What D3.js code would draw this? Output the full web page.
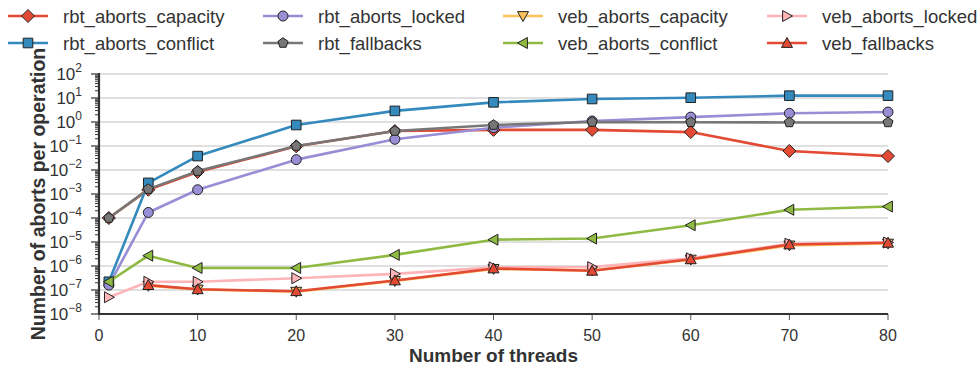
<!DOCTYPE html>
<html><head><meta charset="utf-8">
<script src="https://cdn.jsdelivr.net/npm/d3@7"></script>
<style>
body{margin:0;background:#fff;}
svg{display:block;font-family:"Liberation Sans",Arial,sans-serif;}
</style></head>
<body>
<svg id="chart" width="979" height="368"></svg>
<script>
const threads = [1, 5, 10, 20, 30, 40, 50, 60, 70, 80];
const rbt_aborts_capacity = [1e-4, 1.5e-3, 8.3e-3, 0.097, 0.42, 0.47, 0.47, 0.38, 0.062, 0.038];
const rbt_aborts_conflict = [2.2e-7, 2.9e-3, 0.038, 0.75, 2.9, 6.6, 9.1, 10.3, 12.5, 12.5];
const rbt_aborts_locked = [1.6e-7, 1.7e-4, 1.5e-3, 0.027, 0.19, 0.58, 1.1, 1.6, 2.3, 2.6];
const rbt_fallbacks = [1e-4, 1.6e-3, 9e-3, 0.1, 0.42, 0.75, 1.0, 0.98, 0.96, 0.96];
const veb_aborts_capacity = [null, 1.5e-7, 1.05e-7, 8.5e-8, 2.4e-7, 7.6e-7, 6.5e-7, 1.85e-6, 7.2e-6, 8.6e-6];
const veb_aborts_conflict = [2.2e-7, 2.7e-6, 8.3e-7, 8.3e-7, 2.9e-6, 1.25e-5, 1.4e-5, 5e-5, 2.2e-4, 3.0e-4];
const veb_aborts_locked = [5e-8, 2.2e-7, 2.2e-7, 3.1e-7, 4.7e-7, 8.8e-7, 9e-7, 2.1e-6, 8.5e-6, 9.5e-6];
const veb_fallbacks = [null, 1.6e-7, 1.07e-7, 8.9e-8, 2.5e-7, 7.9e-7, 6.3e-7, 1.9e-6, 7.9e-6, 9.3e-6];
const xTicks = [0, 10, 20, 30, 40, 50, 60, 70, 80];
const yTickExps = [2, 1, 0, -1, -2, -3, -4, -5, -6, -7, -8];

const series = [
  {name:"rbt_aborts_capacity", values:rbt_aborts_capacity, color:"#E24A33", marker:"diamond"},
  {name:"rbt_aborts_conflict", values:rbt_aborts_conflict, color:"#348ABD", marker:"square"},
  {name:"rbt_aborts_locked", values:rbt_aborts_locked, color:"#988ED5", marker:"circle"},
  {name:"rbt_fallbacks", values:rbt_fallbacks, color:"#777777", marker:"pentagon"},
  {name:"veb_aborts_capacity", values:veb_aborts_capacity, color:"#FBC15E", marker:"tdown"},
  {name:"veb_aborts_conflict", values:veb_aborts_conflict, color:"#8EBA42", marker:"tleft"},
  {name:"veb_aborts_locked", values:veb_aborts_locked, color:"#FFB5B8", marker:"tright"},
  {name:"veb_fallbacks", values:veb_fallbacks, color:"#E24A33", marker:"tup"}
];

const svg = d3.select("#chart");
const x = d3.scaleLinear().domain([0, 80]).range([99, 888]);
const y = d3.scaleLog().domain([1e-8, 1e2]).range([314, 74]);

function markerPath(type){
  const p = d3.path();
  if(type==="diamond"){ const r=6.5; p.moveTo(0,-r);p.lineTo(r,0);p.lineTo(0,r);p.lineTo(-r,0);p.closePath(); }
  else if(type==="square"){ const r=4.8; p.rect(-r,-r,2*r,2*r); }
  else if(type==="circle"){ p.arc(0,0,5,0,2*Math.PI); p.closePath(); }
  else if(type==="pentagon"){ const r=5.3; for(let i=0;i<5;i++){const a=-Math.PI/2+i*2*Math.PI/5; const px=r*Math.cos(a), py=r*Math.sin(a); if(i===0)p.moveTo(px,py); else p.lineTo(px,py);} p.closePath(); }
  else {
    const r=5.5;
    let pts=[[0,-r],[r,r*0.8],[-r,r*0.8]];
    let rot = {tup:0, tdown:180, tleft:-90, tright:90}[type];
    const a=rot*Math.PI/180;
    pts = pts.map(([px,py])=>[px*Math.cos(a)-py*Math.sin(a), px*Math.sin(a)+py*Math.cos(a)]);
    p.moveTo(pts[0][0],pts[0][1]); p.lineTo(pts[1][0],pts[1][1]); p.lineTo(pts[2][0],pts[2][1]); p.closePath();
  }
  return p.toString();
}

// gridlines
svg.append("g").selectAll("line").data(yTickExps).join("line")
  .attr("x1", x(0)).attr("x2", x(80))
  .attr("y1", e=>y(Math.pow(10,e))).attr("y2", e=>y(Math.pow(10,e)))
  .attr("stroke", "#d6d6d6").attr("stroke-width", 1.6);

// y axis
const yAxis = svg.append("g").attr("transform", `translate(${x(0)},0)`);
const minor = [];
for(let e=-8;e<2;e++){ for(let m=2;m<=9;m++) minor.push(m*Math.pow(10,e)); }
yAxis.selectAll("line.minor").data(minor).join("line").attr("class","minor")
  .attr("x1",-4).attr("x2",0).attr("y1",d=>y(d)).attr("y2",d=>y(d))
  .attr("stroke","#333").attr("stroke-width",1);
yAxis.selectAll("line.major").data(yTickExps).join("line").attr("class","major")
  .attr("x1",-8).attr("x2",0).attr("y1",e=>y(Math.pow(10,e))).attr("y2",e=>y(Math.pow(10,e)))
  .attr("stroke","#333").attr("stroke-width",1.2);
yAxis.append("line").attr("x1",0).attr("x2",0).attr("y1",y(1e2)-1).attr("y2",y(1e-8))
  .attr("stroke","#333").attr("stroke-width",2.2);
const yl = yAxis.selectAll("text").data(yTickExps).join("text")
  .attr("x",-17).attr("y",e=>y(Math.pow(10,e))+6)
  .attr("text-anchor","end").attr("font-size",17).attr("fill","#333");
yl.append("tspan").text("10");
yl.append("tspan").attr("dy",-8).attr("font-size",12).text(e=>e<0?"\u2212"+(-e):String(e));

// x axis
const xAxis = svg.append("g").attr("transform", `translate(0,${y(1e-8)})`);
xAxis.selectAll("line.tick").data(xTicks).join("line").attr("class","tick")
  .attr("x1",d=>x(d)).attr("x2",d=>x(d)).attr("y1",0).attr("y2",6)
  .attr("stroke","#555").attr("stroke-width",1);
xAxis.append("line").attr("x1",x(0)-1).attr("x2",x(80)).attr("y1",0).attr("y2",0)
  .attr("stroke","#333").attr("stroke-width",2.2);
xAxis.selectAll("text").data(xTicks).join("text")
  .attr("x",d=>x(d)).attr("y",27).attr("text-anchor","middle")
  .attr("font-size",16).attr("fill","#333")
  .text(d=>d);

// axis titles
svg.append("text").attr("x",(x(0)+x(80))/2).attr("y",362).attr("text-anchor","middle")
  .attr("font-size",19).attr("font-weight","bold").attr("fill","#333")
  .text("Number of threads");
svg.append("text").attr("transform",`translate(45,194) rotate(-90)`)
  .attr("text-anchor","middle").attr("font-size",19.5).attr("font-weight","bold").attr("fill","#333")
  .text("Number of aborts per operation");

// lines & markers
const line = d3.line().defined(d=>d[1]!=null).x(d=>x(d[0])).y(d=>y(d[1]));
const plot = svg.append("g");
series.forEach(s=>{
  const pts = threads.map((t,i)=>[t, s.values[i]]);
  const g = plot.append("g");
  g.append("path").datum(pts).attr("d",line).attr("fill","none")
    .attr("stroke",s.color).attr("stroke-width",2.6).attr("stroke-linejoin","round");
  g.selectAll("path.m").data(pts.filter(d=>d[1]!=null)).join("path").attr("class","m")
    .attr("transform",d=>`translate(${x(d[0])},${y(d[1])})`)
    .attr("d",markerPath(s.marker)).attr("fill",s.color)
    .attr("stroke","#222").attr("stroke-width",1);
});

// legend
const legCols = [8, 263, 503, 767];
const legRows = [16, 43];
const leg = svg.append("g");
series.forEach((s,i)=>{
  const cx = legCols[Math.floor(i/2)], cy = legRows[i%2];
  const g = leg.append("g").attr("transform",`translate(${cx},${cy})`);
  g.append("line").attr("x1",0).attr("x2",40).attr("y1",0).attr("y2",0)
    .attr("stroke",s.color).attr("stroke-width",2.6);
  g.append("path").attr("transform","translate(20,0)").attr("d",markerPath(s.marker))
    .attr("fill",s.color).attr("stroke","#222").attr("stroke-width",1);
  g.append("text").attr("x",55).attr("y",6.5).attr("font-size",18.5).attr("fill","#333").text(s.name);
});
</script>
</body></html>
